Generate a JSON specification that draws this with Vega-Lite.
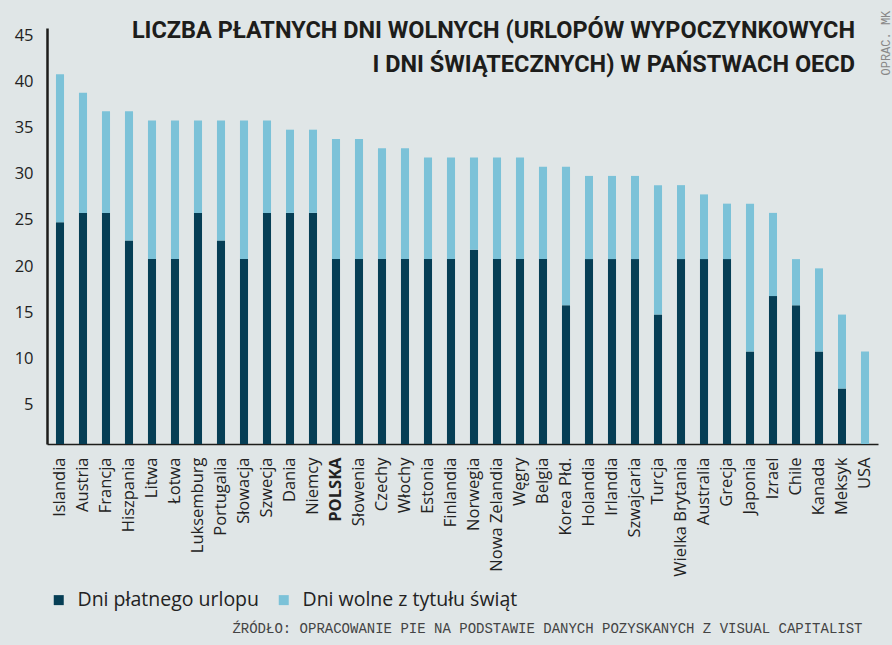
{
  "$schema": "https://vega.github.io/schema/vega-lite/v6.json",
  "width": 831,
  "height": 416,
  "autosize": {"type": "none"},
  "padding": {"left": 47, "top": 28, "right": 14, "bottom": 201},
  "background": "#e0e6e7",
  "config": {"view": {"stroke": null}, "font": "Open Sans"},
  "title": {
    "text": ["LICZBA PŁATNYCH DNI WOLNYCH (URLOPÓW WYPOCZYNKOWYCH", "I DNI ŚWIĄTECZNYCH) W PAŃSTWACH OECD"],
    "orient": "top",
    "anchor": "end",
    "align": "right",
    "frame": "group",
    "font": "Roboto",
    "fontSize": 23.5,
    "fontWeight": "bold",
    "color": "#1d1d1b",
    "lineHeight": 34,
    "baseline": "alphabetic",
    "offset": -85,
    "dx": -23
  },
  "data": {
    "values": [
      {"kraj": "Islandia", "typ": "Dni płatnego urlopu", "o": 1, "dni": 24},
      {"kraj": "Islandia", "typ": "Dni wolne z tytułu świąt", "o": 2, "dni": 16},
      {"kraj": "Austria", "typ": "Dni płatnego urlopu", "o": 1, "dni": 25},
      {"kraj": "Austria", "typ": "Dni wolne z tytułu świąt", "o": 2, "dni": 13},
      {"kraj": "Francja", "typ": "Dni płatnego urlopu", "o": 1, "dni": 25},
      {"kraj": "Francja", "typ": "Dni wolne z tytułu świąt", "o": 2, "dni": 11},
      {"kraj": "Hiszpania", "typ": "Dni płatnego urlopu", "o": 1, "dni": 22},
      {"kraj": "Hiszpania", "typ": "Dni wolne z tytułu świąt", "o": 2, "dni": 14},
      {"kraj": "Litwa", "typ": "Dni płatnego urlopu", "o": 1, "dni": 20},
      {"kraj": "Litwa", "typ": "Dni wolne z tytułu świąt", "o": 2, "dni": 15},
      {"kraj": "Łotwa", "typ": "Dni płatnego urlopu", "o": 1, "dni": 20},
      {"kraj": "Łotwa", "typ": "Dni wolne z tytułu świąt", "o": 2, "dni": 15},
      {"kraj": "Luksemburg", "typ": "Dni płatnego urlopu", "o": 1, "dni": 25},
      {"kraj": "Luksemburg", "typ": "Dni wolne z tytułu świąt", "o": 2, "dni": 10},
      {"kraj": "Portugalia", "typ": "Dni płatnego urlopu", "o": 1, "dni": 22},
      {"kraj": "Portugalia", "typ": "Dni wolne z tytułu świąt", "o": 2, "dni": 13},
      {"kraj": "Słowacja", "typ": "Dni płatnego urlopu", "o": 1, "dni": 20},
      {"kraj": "Słowacja", "typ": "Dni wolne z tytułu świąt", "o": 2, "dni": 15},
      {"kraj": "Szwecja", "typ": "Dni płatnego urlopu", "o": 1, "dni": 25},
      {"kraj": "Szwecja", "typ": "Dni wolne z tytułu świąt", "o": 2, "dni": 10},
      {"kraj": "Dania", "typ": "Dni płatnego urlopu", "o": 1, "dni": 25},
      {"kraj": "Dania", "typ": "Dni wolne z tytułu świąt", "o": 2, "dni": 9},
      {"kraj": "Niemcy", "typ": "Dni płatnego urlopu", "o": 1, "dni": 25},
      {"kraj": "Niemcy", "typ": "Dni wolne z tytułu świąt", "o": 2, "dni": 9},
      {"kraj": "POLSKA", "typ": "Dni płatnego urlopu", "o": 1, "dni": 20},
      {"kraj": "POLSKA", "typ": "Dni wolne z tytułu świąt", "o": 2, "dni": 13},
      {"kraj": "Słowenia", "typ": "Dni płatnego urlopu", "o": 1, "dni": 20},
      {"kraj": "Słowenia", "typ": "Dni wolne z tytułu świąt", "o": 2, "dni": 13},
      {"kraj": "Czechy", "typ": "Dni płatnego urlopu", "o": 1, "dni": 20},
      {"kraj": "Czechy", "typ": "Dni wolne z tytułu świąt", "o": 2, "dni": 12},
      {"kraj": "Włochy", "typ": "Dni płatnego urlopu", "o": 1, "dni": 20},
      {"kraj": "Włochy", "typ": "Dni wolne z tytułu świąt", "o": 2, "dni": 12},
      {"kraj": "Estonia", "typ": "Dni płatnego urlopu", "o": 1, "dni": 20},
      {"kraj": "Estonia", "typ": "Dni wolne z tytułu świąt", "o": 2, "dni": 11},
      {"kraj": "Finlandia", "typ": "Dni płatnego urlopu", "o": 1, "dni": 20},
      {"kraj": "Finlandia", "typ": "Dni wolne z tytułu świąt", "o": 2, "dni": 11},
      {"kraj": "Norwegia", "typ": "Dni płatnego urlopu", "o": 1, "dni": 21},
      {"kraj": "Norwegia", "typ": "Dni wolne z tytułu świąt", "o": 2, "dni": 10},
      {"kraj": "Nowa Zelandia", "typ": "Dni płatnego urlopu", "o": 1, "dni": 20},
      {"kraj": "Nowa Zelandia", "typ": "Dni wolne z tytułu świąt", "o": 2, "dni": 11},
      {"kraj": "Węgry", "typ": "Dni płatnego urlopu", "o": 1, "dni": 20},
      {"kraj": "Węgry", "typ": "Dni wolne z tytułu świąt", "o": 2, "dni": 11},
      {"kraj": "Belgia", "typ": "Dni płatnego urlopu", "o": 1, "dni": 20},
      {"kraj": "Belgia", "typ": "Dni wolne z tytułu świąt", "o": 2, "dni": 10},
      {"kraj": "Korea Płd.", "typ": "Dni płatnego urlopu", "o": 1, "dni": 15},
      {"kraj": "Korea Płd.", "typ": "Dni wolne z tytułu świąt", "o": 2, "dni": 15},
      {"kraj": "Holandia", "typ": "Dni płatnego urlopu", "o": 1, "dni": 20},
      {"kraj": "Holandia", "typ": "Dni wolne z tytułu świąt", "o": 2, "dni": 9},
      {"kraj": "Irlandia", "typ": "Dni płatnego urlopu", "o": 1, "dni": 20},
      {"kraj": "Irlandia", "typ": "Dni wolne z tytułu świąt", "o": 2, "dni": 9},
      {"kraj": "Szwajcaria", "typ": "Dni płatnego urlopu", "o": 1, "dni": 20},
      {"kraj": "Szwajcaria", "typ": "Dni wolne z tytułu świąt", "o": 2, "dni": 9},
      {"kraj": "Turcja", "typ": "Dni płatnego urlopu", "o": 1, "dni": 14},
      {"kraj": "Turcja", "typ": "Dni wolne z tytułu świąt", "o": 2, "dni": 14},
      {"kraj": "Wielka Brytania", "typ": "Dni płatnego urlopu", "o": 1, "dni": 20},
      {"kraj": "Wielka Brytania", "typ": "Dni wolne z tytułu świąt", "o": 2, "dni": 8},
      {"kraj": "Australia", "typ": "Dni płatnego urlopu", "o": 1, "dni": 20},
      {"kraj": "Australia", "typ": "Dni wolne z tytułu świąt", "o": 2, "dni": 7},
      {"kraj": "Grecja", "typ": "Dni płatnego urlopu", "o": 1, "dni": 20},
      {"kraj": "Grecja", "typ": "Dni wolne z tytułu świąt", "o": 2, "dni": 6},
      {"kraj": "Japonia", "typ": "Dni płatnego urlopu", "o": 1, "dni": 10},
      {"kraj": "Japonia", "typ": "Dni wolne z tytułu świąt", "o": 2, "dni": 16},
      {"kraj": "Izrael", "typ": "Dni płatnego urlopu", "o": 1, "dni": 16},
      {"kraj": "Izrael", "typ": "Dni wolne z tytułu świąt", "o": 2, "dni": 9},
      {"kraj": "Chile", "typ": "Dni płatnego urlopu", "o": 1, "dni": 15},
      {"kraj": "Chile", "typ": "Dni wolne z tytułu świąt", "o": 2, "dni": 5},
      {"kraj": "Kanada", "typ": "Dni płatnego urlopu", "o": 1, "dni": 10},
      {"kraj": "Kanada", "typ": "Dni wolne z tytułu świąt", "o": 2, "dni": 9},
      {"kraj": "Meksyk", "typ": "Dni płatnego urlopu", "o": 1, "dni": 6},
      {"kraj": "Meksyk", "typ": "Dni wolne z tytułu świąt", "o": 2, "dni": 8},
      {"kraj": "USA", "typ": "Dni płatnego urlopu", "o": 1, "dni": 0},
      {"kraj": "USA", "typ": "Dni wolne z tytułu świąt", "o": 2, "dni": 10}
    ]
  },
  "mark": {"type": "bar"},
  "encoding": {
    "x": {
      "field": "kraj",
      "type": "nominal",
      "sort": null,
      "scale": {"paddingInner": 0.65, "paddingOuter": 0.39},
      "axis": {
        "title": "ŹRÓDŁO: OPRACOWANIE PIE NA PODSTAWIE DANYCH POZYSKANYCH Z VISUAL CAPITALIST",
        "titleX": 815,
        "titleY": 188,
        "titleAlign": "right",
        "titleAnchor": "end",
        "titleBaseline": "alphabetic",
        "titleFont": "Liberation Mono",
        "titleFontSize": 14,
        "titleFontWeight": "normal",
        "titleColor": "#444444",
        "labelAngle": -90,
        "labelAlign": "right",
        "labelBaseline": "middle",
        "labelFont": "Open Sans",
        "labelFontSize": 16.5,
        "labelColor": "#222222",
        "labelFontWeight": {"condition": {"test": "datum.value == 'POLSKA'", "value": "bold"}, "value": "normal"},
        "labelPadding": 13,
        "ticks": false,
        "domainColor": "#1d1d1b",
        "domainWidth": 1.5
      }
    },
    "y": {
      "field": "dni",
      "type": "quantitative",
      "stack": "zero",
      "scale": {"domain": [0, 45], "nice": false},
      "axis": {
        "values": [5, 10, 15, 20, 25, 30, 35, 40, 45],
        "grid": false,
        "ticks": false,
        "labelFont": "Open Sans",
        "labelFontSize": 16.5,
        "labelColor": "#222222",
        "labelPadding": 14,
        "labelOffset": 7,
        "domainColor": "#1d1d1b",
        "domainWidth": 2.5,
        "title": "OPRAC. MK",
        "titleAngle": 270,
        "titleX": 838,
        "titleY": 47,
        "titleAlign": "left",
        "titleBaseline": "middle",
        "titleFont": "Liberation Mono",
        "titleFontSize": 12,
        "titleFontWeight": "normal",
        "titleColor": "#888888"
      }
    },
    "order": {"field": "o", "type": "quantitative", "sort": "ascending"},
    "color": {
      "field": "typ",
      "type": "nominal",
      "scale": {"domain": ["Dni płatnego urlopu", "Dni wolne z tytułu świąt"], "range": ["#063e55", "#7cc2d8"]},
      "legend": {
        "title": null,
        "orient": "none",
        "direction": "horizontal",
        "legendX": 2,
        "legendY": 562,
        "padding": 0,
        "symbolType": "square",
        "symbolSize": 100,
        "symbolStrokeWidth": 0,
        "labelFont": "Open Sans",
        "labelFontSize": 19.5,
        "labelColor": "#222222",
        "labelLimit": 400,
        "labelOffset": 9,
        "columnPadding": 15
      }
    }
  }
}
